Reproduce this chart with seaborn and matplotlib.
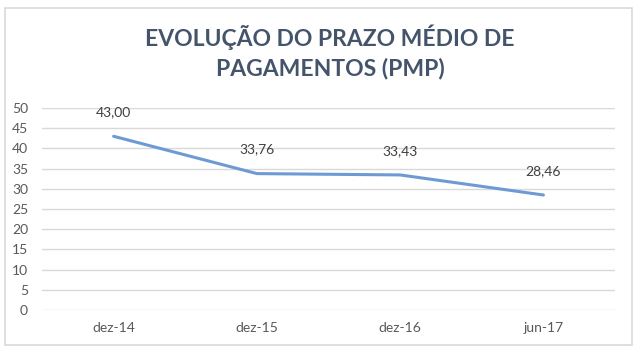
import pandas as pd
import matplotlib.pyplot as plt
import seaborn as sns
from matplotlib.patches import Rectangle

# Dados do gráfico
periodos = ['dez-14', 'dez-15', 'dez-16', 'jun-17']
pmp = [43.00, 33.76, 33.43, 28.46]
rotulos = ['43,00', '33,76', '33,43', '28,46']

df = pd.DataFrame({'periodo': periodos, 'pmp': pmp})

sns.set_style('white')
plt.rcParams['font.family'] = ['Lato', 'DejaVu Sans']

fig = plt.figure(figsize=(6.4, 3.53), dpi=100)
ax = fig.add_axes([0.0656, 0.122, 0.8954, 0.572])

sns.lineplot(data=df, x='periodo', y='pmp', ax=ax, color='#6E9AD4',
             linewidth=2.2, sort=False)

# Rótulos de dados
for i, (v, txt) in enumerate(zip(pmp, rotulos)):
    ax.annotate(txt, (i, v), xytext=(0, 13), textcoords='offset points',
                ha='center', va='bottom', fontsize=10, color='#404040')

ax.set_xlim(-0.5, 3.5)
ax.set_ylim(0, 50)
ax.set_yticks(range(0, 51, 5))
ax.yaxis.grid(True, color='#D9D9D9', linewidth=1)
ax.set_axisbelow(True)
for s in ax.spines.values():
    s.set_visible(False)
ax.tick_params(axis='both', length=0, labelsize=10, labelcolor='#595959')
ax.tick_params(axis='x', pad=9)
ax.tick_params(axis='y', pad=10)
ax.set_xlabel('')
ax.set_ylabel('')

fig.text(0.516, 0.852, 'EVOLUÇÃO DO PRAZO MÉDIO DE\nPAGAMENTOS (PMP)',
         ha='center', va='center', fontsize=16.5, fontweight='bold',
         color='#44546A', linespacing=1.45)

# Moldura do gráfico
fig.patches.append(Rectangle((0.008, 0.022), 0.98, 0.955, transform=fig.transFigure,
                             fill=False, edgecolor='#D9D9D9', linewidth=1.2))

fig.savefig('out.png', dpi=100)
